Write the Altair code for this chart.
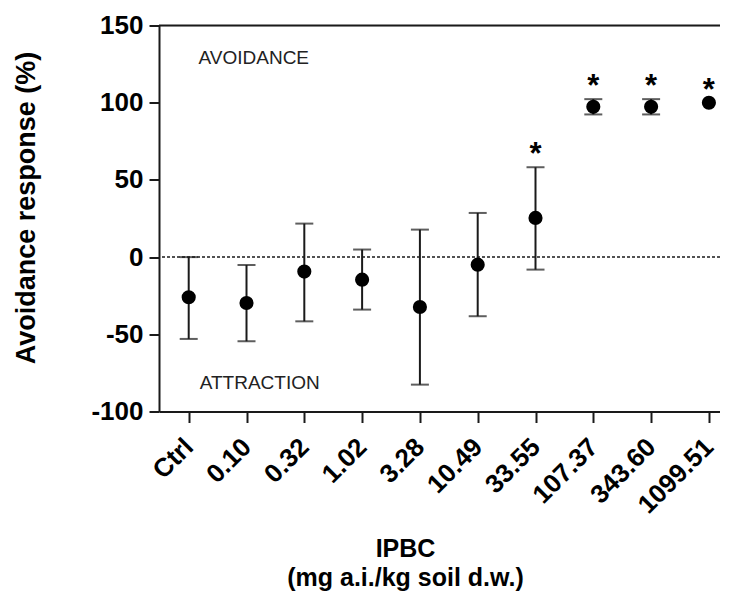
import json
import altair as alt
import pandas as pd

# ---- data ----
categories = ["Ctrl", "0.10", "0.32", "1.02", "3.28", "10.49", "33.55", "107.37", "343.60", "1099.51"]
mean_resp = [-26.0, -29.7, -9.4, -14.6, -32.3, -4.9, 25.4, 97.3, 97.3, 100.0]
err_hi = [0.0, -5.1, 21.7, 4.9, 17.8, 28.6, 58.2, 102.3, 102.3, None]
err_lo = [-53.0, -54.5, -41.6, -34.0, -82.6, -38.3, -8.1, 92.4, 92.4, None]
significant = [False, False, False, False, False, False, True, True, True, True]

y_ticks = [-100, -50, 0, 50, 100, 150]
region_labels = ["AVOIDANCE", "ATTRACTION"]
region_x = [0.17, 0.19]
region_y = [129, -81.5]

FONT = "Liberation Sans"
INK = "#1a1a1a"

df = pd.DataFrame({
    "idx": list(range(len(categories))),
    "cat": categories,
    "mean": mean_resp,
    "hi": err_hi,
    "lo": err_lo,
    "sig": significant,
})
df["star_y"] = [h if h is not None and not pd.isna(h) else m for h, m in zip(df["hi"], df["mean"])]

ann = pd.DataFrame({"label": region_labels, "x": region_x, "y": region_y})

x_scale = alt.Scale(domain=[-0.514, 9.192], nice=False, zero=False)
y_scale = alt.Scale(domain=[-100, 150], nice=False, zero=False)

x_axis = alt.Axis(
    values=list(range(len(categories))),
    labelExpr=f"{json.dumps(categories)}[datum.value]",
    labelAngle=-45, labelAlign="right", labelBaseline="middle",
    labelFont=FONT, labelFontSize=26, labelFontWeight="bold", labelColor="black",
    labelPadding=20, labelFlush=False, labelOverlap=False, labelBound=False,
    grid=False, domainColor=INK, domainWidth=2, tickColor=INK, tickWidth=2, tickSize=11,
    title=["IPBC", "(mg a.i./kg soil d.w.)"],
    titleFont=FONT, titleFontSize=25, titleFontWeight="bold", titleColor="black",
    titleX=246, titleY=125, titleAlign="center", titleBaseline="top", titleLineHeight=29,
)
y_axis = alt.Axis(
    values=y_ticks,
    labelExpr="'' + datum.value",
    labelFont=FONT, labelFontSize=26, labelFontWeight="bold", labelColor="black",
    labelPadding=6, labelFlush=False, labelOverlap=False,
    grid=False, domainColor=INK, domainWidth=2, tickColor=INK, tickWidth=2, tickSize=10,
    title="Avoidance response (%)",
    titleFont=FONT, titleFontSize=27, titleFontWeight="bold", titleColor="black",
    titleAngle=270, titleX=-125, titleY=182, titleAlign="center", titleBaseline="alphabetic",
)

base = alt.Chart(df)
X = alt.X("idx:Q", scale=x_scale, axis=x_axis)
Y = alt.Y("mean:Q", scale=y_scale, axis=y_axis)

one = alt.Data(values=[{}])
top_line = alt.Chart(one).mark_rule(color=INK, strokeWidth=2).encode(y=alt.datum(150, scale=y_scale))
zero_line = alt.Chart(one).mark_rule(color=INK, strokeWidth=1.5, strokeDash=[3, 2]).encode(
    y=alt.datum(0, scale=y_scale))

valid = base.transform_filter("isValid(datum.hi)")
bars = valid.mark_rule(color=INK, strokeWidth=2).encode(
    x=alt.X("idx:Q", scale=x_scale), y=alt.Y("lo:Q", scale=y_scale), y2="hi:Q")
cap_hi = valid.mark_tick(orient="horizontal", size=18, thickness=2, color=INK).encode(
    x=alt.X("idx:Q", scale=x_scale), y=alt.Y("hi:Q", scale=y_scale))
cap_lo = valid.mark_tick(orient="horizontal", size=18, thickness=2, color=INK).encode(
    x=alt.X("idx:Q", scale=x_scale), y=alt.Y("lo:Q", scale=y_scale))
points = base.mark_circle(size=200, color="black", opacity=1).encode(x=X, y=Y)
stars = base.transform_filter("datum.sig").mark_text(
    text="*", font=FONT, fontSize=31, fontWeight="bold", color="black",
    align="center", baseline="middle", dy=-12).encode(
    x=alt.X("idx:Q", scale=x_scale), y=alt.Y("star_y:Q", scale=y_scale))
regions = alt.Chart(ann).mark_text(
    font=FONT, fontSize=19, color="#222222", align="left", baseline="middle").encode(
    x=alt.X("x:Q", scale=x_scale), y=alt.Y("y:Q", scale=y_scale), text="label:N")

chart = alt.layer(
    top_line, zero_line, bars, cap_hi, cap_lo, points, stars, regions
).properties(
    width=561, height=386,
    autosize=alt.AutoSizeParams(type="none"),
    padding={"left": 151, "top": 17.5, "right": 0, "bottom": 185},
).configure_view(stroke=None).configure(background="white")

chart.save("out.html", embed_options={"renderer": "svg", "actions": False})
